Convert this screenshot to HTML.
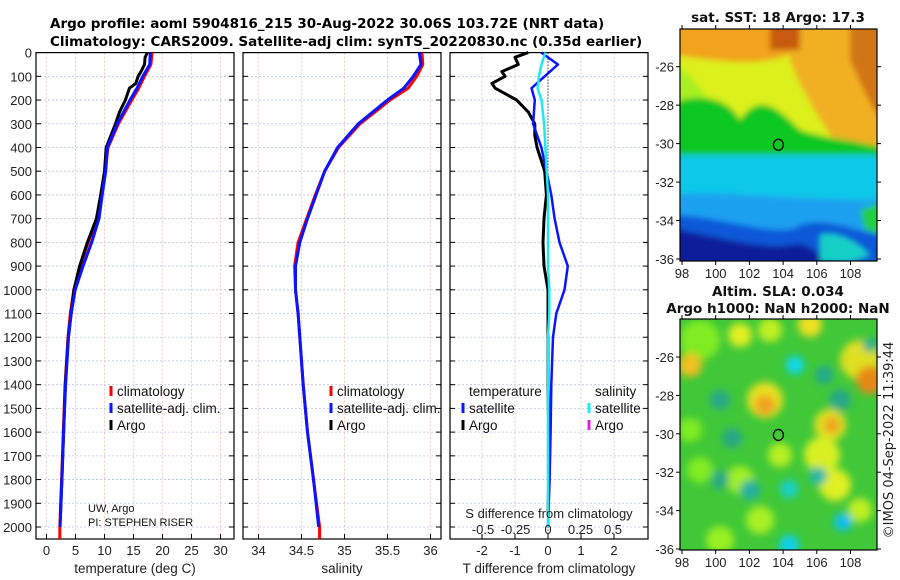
<!DOCTYPE html>
<html><head><meta charset="utf-8"><style>
html,body{margin:0;padding:0;background:#fff;width:900px;height:580px;overflow:hidden}
svg text{font-family:"Liberation Sans","DejaVu Sans",sans-serif}
</style></head><body>
<svg id="c" width="900" height="580" xmlns="http://www.w3.org/2000/svg">
<defs>
<filter id="bl" x="-10%" y="-10%" width="120%" height="120%"><feGaussianBlur stdDeviation="3"/></filter>
<filter id="bl2" x="-50%" y="-50%" width="200%" height="200%"><feGaussianBlur stdDeviation="4"/></filter>
<clipPath id="cp1"><rect x="680" y="29" width="197" height="232"/></clipPath>
<clipPath id="cp2"><rect x="680" y="319" width="197" height="231"/></clipPath>
</defs>
<text x="50" y="28" font-size="13.5" font-weight="bold" style="font-family:'DejaVu Sans',sans-serif">Argo profile: aoml 5904816_215 30-Aug-2022 30.06S 103.72E (NRT data)</text>
<text x="50" y="46" font-size="13.5" font-weight="bold" style="font-family:'DejaVu Sans',sans-serif">Climatology: CARS2009. Satellite-adj clim: synTS_20220830.nc (0.35d earlier)</text>
<g id="plots"></g>
<g id="maps"></g>
<text transform="translate(893,440) rotate(-90)" text-anchor="middle" font-size="13" fill="#222" style="font-family:'DejaVu Sans',sans-serif">©IMOS 04-Sep-2022 11:39:44</text>
</svg>
<script>
// ---- data ----
const climDepth=[0,50,100,150,200,300,400,500,600,700,800,900,1000,1100,1200,1400,1600,1800,2000,2050];
const tempClim=[18.2,18.0,16.9,15.9,14.7,12.4,10.6,10.1,9.4,8.7,7.2,5.8,4.7,4.1,3.7,3.2,2.9,2.6,2.3,2.3];
const tempSat=[17.9,17.8,16.6,15.6,14.4,12.2,10.5,10.2,9.6,9.05,7.8,6.3,4.95,4.25,3.8,3.3,2.95,2.65,2.35];
const argoDepth=[0,20,50,80,100,130,150,200,250,300,350,400,500,600,700,800,900,1000,1200,1400,1600,1800,1950];
const tempArgo=[17.4,17.0,16.9,16.3,15.8,15.4,14.3,13.6,12.6,11.9,11.1,10.3,10.0,9.35,8.6,7.05,5.7,4.75,3.75,3.25,2.95,2.65,2.4];
const salClim=[35.90,35.91,35.84,35.74,35.53,35.18,34.93,34.77,34.66,34.56,34.46,34.42,34.43,34.46,34.48,34.52,34.57,34.64,34.71,34.71];
const salSat=[35.87,35.89,35.80,35.69,35.50,35.16,34.92,34.77,34.67,34.57,34.48,34.43,34.43,34.46,34.48,34.52,34.57,34.64,34.70];
const tDiffArgo=[-0.6,-1.0,-0.9,-1.4,-1.3,-1.7,-1.6,-0.95,-0.6,-0.4,-0.4,-0.33,-0.1,-0.05,-0.12,-0.15,-0.12,0.0,0.0,0.0,0.02,0.02,0.0];
const tDiffSat=[-0.2,0.3,-0.1,-0.5,-0.4,-0.45,-0.2,-0.05,0.1,0.2,0.35,0.6,0.5,0.25,0.15,0.1,0.08,0.05,0.0];
const sDiffSat=[-0.02,-0.05,-0.07,-0.08,-0.05,-0.03,-0.02,-0.01,0,0,0,0,0.01,0.01,0,0,0,0,0];
const depthTicks=[0,100,200,300,400,500,600,700,800,900,1000,1100,1200,1300,1400,1500,1600,1700,1800,1900,2000];
const tempTicks=[0,5,10,15,20,25,30];
const salTicks=[34,34.5,35,35.5,36];
const tDiffTicks=[-2,-1,0,1,2];
const sDiffTicks=[-0.5,-0.25,0,0.25,0.5];
const lonTicks=[98,100,102,104,106,108];
const latTicks=[-26,-28,-30,-32,-34,-36];

const NS="http://www.w3.org/2000/svg";
function mk(tag,attrs,parent,txt){const e=document.createElementNS(NS,tag);for(const k in attrs)e.setAttribute(k,attrs[k]);if(txt!=null)e.textContent=txt;parent.appendChild(e);return e;}
const plots=document.getElementById('plots');
const yTop=52.6,yPx=0.2372;
const Y=d=>yTop+d*yPx;
const panels=[
 {x0:36,x1:234,f:v=>46.5+v*5.8,ticks:tempTicks,label:'temperature (deg C)',name:'temperature'},
 {x0:243,x1:441,f:v=>258.5+(v-34)*86,ticks:salTicks,label:'salinity',name:'salinity'},
 {x0:450,x1:648,f:v=>548+v*33,ticks:tDiffTicks,label:'T difference from climatology',name:'difference'}
];
const sx=v=>548+v*130;
const yB=539;
panels.forEach((p,i)=>{
  const g=mk('g',{},plots);
  
  
  depthTicks.forEach(d=>{const l=mk('line',{x1:p.x0,x2:p.x1,y1:Y(d),y2:Y(d),stroke:'#b8c4ee','stroke-width':0.8,'stroke-dasharray':'2,2'},g);
    
    mk('line',{x1:p.x0,x2:p.x0+5,y1:Y(d),y2:Y(d),stroke:'#000'},g);mk('line',{x1:p.x1-5,x2:p.x1,y1:Y(d),y2:Y(d),stroke:'#000'},g);});
  p.ticks.forEach(t=>{const x=p.f(t);const l=mk('line',{x1:x,x2:x,y1:yTop,y2:yB,stroke:'#e0c0b8','stroke-width':0.8,'stroke-dasharray':'2,2'},g);
    
    mk('line',{x1:x,x2:x,y1:yB,y2:yB-5,stroke:'#000'},g);
    const tl=mk('text',{x:x,y:yB+16,'font-size':13,'text-anchor':'middle',fill:'#222'},g,String(t));
    });
  mk('rect',{x:p.x0,y:yTop,width:p.x1-p.x0,height:yB-yTop,fill:'none',stroke:'#000','stroke-width':1.2},g);
  const xl=mk('text',{x:(p.x0+p.x1)/2,y:yB+34,'font-size':13.5,'text-anchor':'middle',fill:'#222'},g,p.label);
  
});
depthTicks.forEach(d=>{const t=mk('text',{x:32,y:Y(d)+5,'font-size':13,'text-anchor':'end',fill:'#222'},plots,String(d));
  });
function line(xs,ds,f,color,w,name){
  const pts=xs.map((v,i)=>f(v).toFixed(1)+','+Y(ds[i]).toFixed(1)).join(' ');
  const pl=mk('polyline',{points:pts,fill:'none',stroke:color,'stroke-width':w,'stroke-linejoin':'round'},plots);
  
}
const P=panels;
line(tempClim,climDepth,P[0].f,'#ff0000',3,'temp-climatology-line');
line(tempArgo,argoDepth,P[0].f,'#000',3,'temp-argo-line');
line(tempSat,climDepth,P[0].f,'#0a14ff',3,'temp-satellite-line');
line(salClim,climDepth,P[1].f,'#ff0000',3,'sal-climatology-line');
line(salSat,climDepth,P[1].f,'#0a14ff',3,'sal-satellite-line');
const zl=mk('line',{x1:548,x2:548,y1:yTop,y2:yB,stroke:'#000','stroke-dasharray':'1,2'},plots);

line(tDiffArgo,argoDepth,P[2].f,'#000',3,'tdiff-argo-line');
line(tDiffSat,climDepth,P[2].f,'#0a14ff',2.5,'tdiff-satellite-line');
line(sDiffSat,climDepth,sx,'#20e8f0',2.5,'sdiff-satellite-line');
const st=mk('text',{x:549,y:518,'font-size':13,'text-anchor':'middle',fill:'#222'},plots,'S difference from climatology');

sDiffTicks.forEach(t=>{const e=mk('text',{x:sx(t),y:534,'font-size':13,'text-anchor':'middle',fill:'#222'},plots,String(t));
  });
function leg(x,y,color,label){const g=mk('g',{},plots);
  if(color)mk('line',{x1:x,x2:x,y1:y-10,y2:y,stroke:color,'stroke-width':3},g);
  mk('text',{x:x+6,y:y,'font-size':13.5,fill:'#111'},g,label);}
[[111,396,'#ff0000','climatology'],[111,413,'#0a14ff','satellite-adj. clim.'],[111,430,'#000','Argo'],
 [331,396,'#ff0000','climatology'],[331,413,'#0a14ff','satellite-adj. clim.'],[331,430,'#000','Argo'],
 [463,396,null,'temperature'],[463,413,'#0a14ff','satellite'],[463,430,'#000','Argo'],
 [589,396,null,'salinity'],[589,413,'#20e8f0','satellite'],[589,430,'#e020e0','Argo']].forEach(a=>leg(...a));
const n1=mk('text',{x:88,y:512,'font-size':11,fill:'#111'},plots,'UW, Argo');
const n2=mk('text',{x:88,y:526,'font-size':11,fill:'#111'},plots,'PI: STEPHEN RISER');

// ---- maps ----
const maps=document.getElementById('maps');
function mapAxes(x0,y0,w,h,lat26y,lat36y,name,titles){
  const g=mk('g',{},maps);
  const lx=v=>682+(v-98)*16.85;const ly=v=>lat26y+(-26-v)*(lat36y-lat26y)/10;
  mk('rect',{x:x0,y:y0,width:w,height:h,fill:'none',stroke:'#000','stroke-width':1.2},g);
  latTicks.forEach(t=>{mk('line',{x1:x0-4,x2:x0,y1:ly(t),y2:ly(t),stroke:'#000'},g);mk('line',{x1:x0+w,x2:x0+w+4,y1:ly(t),y2:ly(t),stroke:'#000'},g);
    const e=mk('text',{x:x0-6,y:ly(t)+5,'font-size':13,'text-anchor':'end',fill:'#222'},g,String(t));});
  lonTicks.forEach(t=>{mk('line',{x1:lx(t),x2:lx(t),y1:y0+h,y2:y0+h+4,stroke:'#000'},g);mk('line',{x1:lx(t),x2:lx(t),y1:y0-4,y2:y0,stroke:'#000'},g);
    const e=mk('text',{x:lx(t),y:y0+h+17,'font-size':13,'text-anchor':'middle',fill:'#222'},g,String(t));});
  const c=mk('ellipse',{cx:lx(103.72),cy:ly(-30.06),rx:5,ry:5.5,fill:'none',stroke:'#000','stroke-width':1.3},g);
  
  titles.forEach(t=>{const e=mk('text',{x:t[0],y:t[1],'font-size':13.5,'font-weight':'bold','text-anchor':'middle',fill:'#111',style:"font-family:'DejaVu Sans',sans-serif"},g,t[2]);});
}
const s=mk('g',{'clip-path':'url(#cp1)'},maps);
const sb=mk('g',{filter:'url(#bl)'},s);
[['#f2a21e','M670 20H890V80H670Z'],['#dcf01c','M670 55 C720 60 760 70 800 50 L890 100 L890 170 L670 150Z'],
 ['#f0b020','M790 20H890V170 L840 150 C820 120 800 90 790 60Z'],['#d27412','M850 20H890V130 C870 110 860 80 850 60Z'],['#c85a10','M770 20H800V50H770Z'],
 ['#a8f020','M670 60 C700 80 730 120 700 140 L670 140Z'],
 ['#10c824','M670 105 C700 90 730 100 740 120 C760 90 780 110 800 130 C830 140 860 140 890 150 V175 H670Z'],
 ['#10c8e8','M670 155 H890 V200 H670Z'],['#1fa0f0','M670 195 C720 190 790 200 890 200 V240 H670Z'],
 ['#1058d8','M670 215 C720 215 780 240 800 225 C830 215 860 235 890 235 V270 H670Z'],
 ['#0a1c98','M670 228 C710 235 760 250 790 245 C810 240 820 258 840 265 H670Z'],
 ['#18d0c8','M820 235 C840 230 860 245 870 255 L850 262 L820 262Z'],['#20d040','M860 210 L890 200 L890 235 L865 230Z']
].forEach(a=>mk('path',{d:a[1],fill:a[0]},sb));
const a=mk('g',{'clip-path':'url(#cp2)'},maps);
mk('rect',{x:680,y:319,width:197,height:231,fill:'#40c838'},a);
const ab=mk('g',{filter:'url(#bl2)'},a);
[[700,340,20,'#80ec20'],[740,335,12,'#e0f020'],[770,330,12,'#c0f020'],[690,430,12,'#80ec20'],[700,470,13,'#80ec20'],[740,480,14,'#a0f020'],[760,520,14,'#a8f020'],
 [810,325,12,'#f0e020'],[860,360,20,'#e0e020'],[690,365,12,'#f0c020'],[765,400,18,'#e8e020'],[765,405,10,'#f0a020'],[830,425,16,'#e0e020'],[832,425,8,'#f0a020'],
 [870,380,14,'#e88818'],[822,455,18,'#d8f020'],[835,485,16,'#e0f020'],[780,455,12,'#b8f020'],[720,540,14,'#98f020'],[860,510,12,'#c0f020'],
 [795,365,9,'#10d8f0'],[824,375,9,'#20a890'],[720,400,10,'#28a888'],[732,438,10,'#28a888'],[750,490,10,'#20b0a0'],[789,489,9,'#18d0d0'],[818,476,9,'#20b8a8'],
 [843,522,9,'#10c0f0'],[789,545,10,'#10d0f0'],[870,345,7,'#20b090'],[840,400,11,'#28a888'],[720,480,9,'#28a888']].forEach(c=>mk('circle',{cx:c[0],cy:c[1],r:c[2],fill:c[3]},ab));
mapAxes(680,29,197,232,66.7,259,'sst',[[778,22,'sat. SST: 18 Argo: 17.3']]);
mapAxes(680,319,197,231,357,549,'sla',[[778,296,'Altim. SLA: 0.034'],[778,313,'Argo h1000: NaN h2000: NaN']]);
</script>
</body></html>
